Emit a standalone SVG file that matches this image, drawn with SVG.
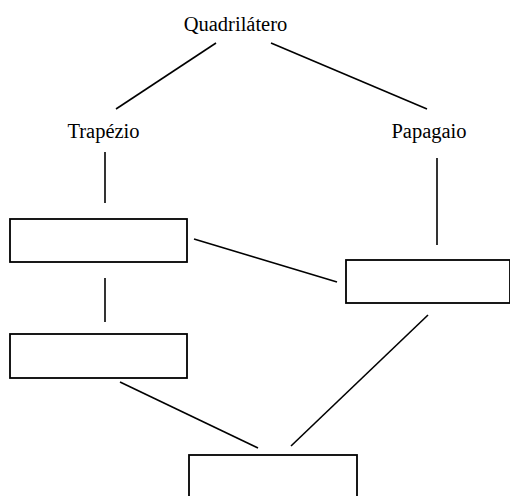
<svg xmlns="http://www.w3.org/2000/svg" width="510" height="496" viewBox="0 0 510 496">
<style>
.t{font-family:"Liberation Serif","Times New Roman",serif;font-size:20.5px;fill:#000;text-anchor:middle}
.b{fill:#fff;stroke:#000;stroke-width:1.8}
.c line{stroke:#000;stroke-width:1.6}
</style>
<rect width="510" height="496" fill="#fff"/>
<g id="quadrilatero"><text class="t" x="235.5" y="31">Quadrilátero</text></g>
<g id="trapezio"><text class="t" x="103.5" y="138">Trapézio</text></g>
<g id="papagaio"><text class="t" x="429" y="138">Papagaio</text></g>
<g id="box1"><rect class="b" x="10" y="219" width="177" height="43"/></g>
<g id="box2"><rect class="b" x="346" y="260" width="164" height="43"/></g>
<g id="box3"><rect class="b" x="10" y="334" width="177" height="44"/></g>
<g id="box4"><rect class="b" x="189" y="455" width="168" height="45"/></g>
<g class="c" id="connectors">
<line x1="216" y1="43" x2="116" y2="109"/>
<line x1="271" y1="43" x2="427" y2="109"/>
<line x1="105" y1="152" x2="105" y2="203"/>
<line x1="437" y1="158" x2="437" y2="245"/>
<line x1="194" y1="239" x2="337" y2="282"/>
<line x1="105" y1="278" x2="105" y2="322"/>
<line x1="120" y1="382" x2="258" y2="448"/>
<line x1="428" y1="315" x2="291" y2="446"/>
</g>
</svg>
